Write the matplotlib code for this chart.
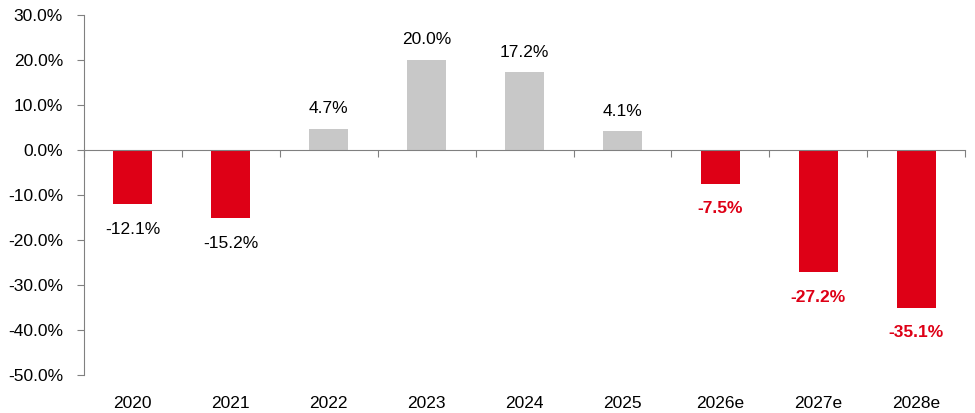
import numpy as np
import matplotlib.pyplot as plt

plt.rcParams['font.family'] = ['Liberation Sans', 'DejaVu Sans']

years = ['2020', '2021', '2022', '2023', '2024', '2025', '2026e', '2027e', '2028e']
growth = [-12.1, -15.2, 4.7, 20.0, 17.2, 4.1, -7.5, -27.2, -35.1]
is_forecast = [False, False, False, False, False, False, True, True, True]

RED = '#DE0016'
GREY = '#C8C8C8'

fig = plt.figure(figsize=(9.75, 4.13), dpi=100)
ax = fig.add_axes([0.086, 0.092, 0.904, 0.872])

x = np.arange(len(years))
colors = [RED if v < 0 else GREY for v in growth]
ax.bar(x, growth, width=0.4, color=colors, zorder=2)

for xi, v, fc in zip(x, growth, is_forecast):
    off = 9 if v >= 0 else -12.5
    ax.annotate(f'{v:.1f}%', (xi, v), xytext=(0, off), textcoords='offset points',
                ha='center', va='bottom' if v >= 0 else 'top', fontsize=12.5,
                color=RED if fc else 'black', fontweight='bold' if fc else 'normal')

ax.set_xlim(-0.5, len(years) - 0.5)
ax.set_ylim(-50, 30)
ax.set_yticks(np.arange(-50, 31, 10))
ax.set_yticklabels([f'{t:.1f}%' for t in np.arange(-50, 31, 10)], fontsize=12.5)

# zero line with category boundary ticks
ax.spines['bottom'].set_position(('data', 0))
ax.spines['bottom'].set_color('#808080')
ax.spines['left'].set_color('#808080')
ax.spines['top'].set_visible(False)
ax.spines['right'].set_visible(False)
ax.set_xticks(np.arange(-0.5, len(years), 1.0))
ax.set_xticklabels([])
ax.tick_params(axis='x', direction='out', length=5, color='#808080')
ax.tick_params(axis='y', direction='out', length=5, color='#808080', pad=10)

# category labels along the bottom
sec = ax.secondary_xaxis(0)
sec.set_xticks(x)
sec.set_xticklabels(years, fontsize=12.5)
sec.tick_params(length=0, pad=15)
sec.spines['bottom'].set_visible(False)

fig.savefig('out.png', dpi=100)
